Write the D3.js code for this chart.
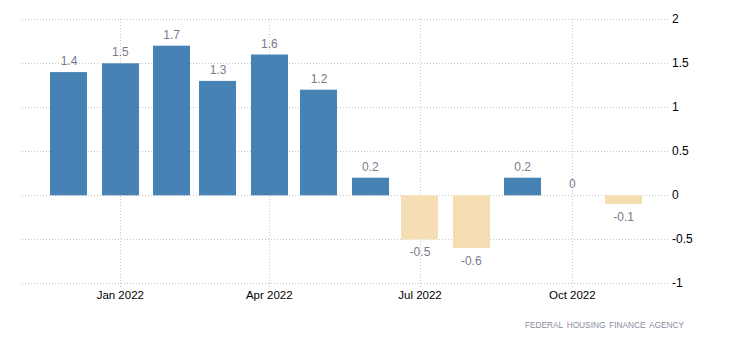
<!DOCTYPE html>
<html><head><meta charset="utf-8">
<script src="https://cdn.jsdelivr.net/npm/d3@7"></script>
<style>body{margin:0;background:#fff}svg{display:block}</style>
</head><body>
<svg id="c" width="730" height="350"></svg>
<script>
const months = ["2021-12","2022-01","2022-02","2022-03","2022-04","2022-05","2022-06","2022-07","2022-08","2022-09","2022-10","2022-11"];
const values = [1.4,1.5,1.7,1.3,1.6,1.2,0.2,-0.5,-0.6,0.2,0,-0.1];
const yTicks = [-1,-0.5,0,0.5,1,1.5,2];
const xTicks = ["2022-01","2022-04","2022-07","2022-10"];
const xTickLabels = ["Jan 2022","Apr 2022","Jul 2022","Oct 2022"];
const source = "FEDERAL HOUSING FINANCE AGENCY";

const parse = d3.utcParse("%Y-%m");
const svg = d3.select("#c");
const font = "'Liberation Sans', Arial, sans-serif";

const x = d3.scaleUtc().domain([parse("2021-11"), parse("2022-12")]).range([19.3, 673.3]);
const y = d3.scaleLinear().domain([-1, 2]).range([283.3, 19.3]);
const barW = 37;

// horizontal grid
svg.append("g").selectAll("line").data(yTicks).join("line")
  .attr("x1", 22).attr("x2", 668)
  .attr("y1", d => Math.round(y(d)) + 0.5).attr("y2", d => Math.round(y(d)) + 0.5)
  .attr("stroke", "#c8c8c8").attr("stroke-dasharray", "1,2");

// vertical grid
svg.append("g").selectAll("line").data(xTicks).join("line")
  .attr("x1", d => Math.round(x(parse(d))) + 0.5).attr("x2", d => Math.round(x(parse(d))) + 0.5)
  .attr("y1", 19).attr("y2", 288)
  .attr("stroke", "#c8c8c8").attr("stroke-dasharray", "1,2");

// bars
svg.append("g").selectAll("rect").data(months).join("rect")
  .attr("x", (d) => Math.round(x(parse(d)) - barW / 2))
  .attr("width", barW)
  .attr("y", (d, i) => y(Math.max(0, values[i])))
  .attr("height", (d, i) => Math.abs(y(values[i]) - y(0)))
  .attr("fill", (d, i) => values[i] < 0 ? "#F5DEB3" : "#4682B4");

// value labels
svg.append("g").selectAll("text").data(months).join("text")
  .attr("x", d => x(parse(d)))
  .attr("y", (d, i) => values[i] < 0 ? y(values[i]) + 17 : y(values[i]) - 7)
  .attr("text-anchor", "middle")
  .attr("font-family", font).attr("font-size", 12)
  .attr("fill", "#7a7a8e")
  .text((d, i) => values[i]);

// y axis labels (right)
svg.append("g").selectAll("text").data(yTicks).join("text")
  .attr("x", 672).attr("y", d => y(d) + 4)
  .attr("font-family", font).attr("font-size", 12)
  .attr("fill", "#000")
  .text(d => d);

// x axis labels
svg.append("g").selectAll("text").data(xTicks).join("text")
  .attr("x", d => x(parse(d))).attr("y", 299)
  .attr("text-anchor", "middle")
  .attr("font-family", font).attr("font-size", 11.5)
  .attr("fill", "#000")
  .text((d, i) => xTickLabels[i]);

// source
svg.append("text")
  .attr("x", 684).attr("y", 328)
  .attr("text-anchor", "end")
  .attr("font-family", font).attr("font-size", 8.3)
  .attr("word-spacing", 1.5)
  .attr("fill", "#8a8aa0")
  .text(source);
</script>
</body></html>
